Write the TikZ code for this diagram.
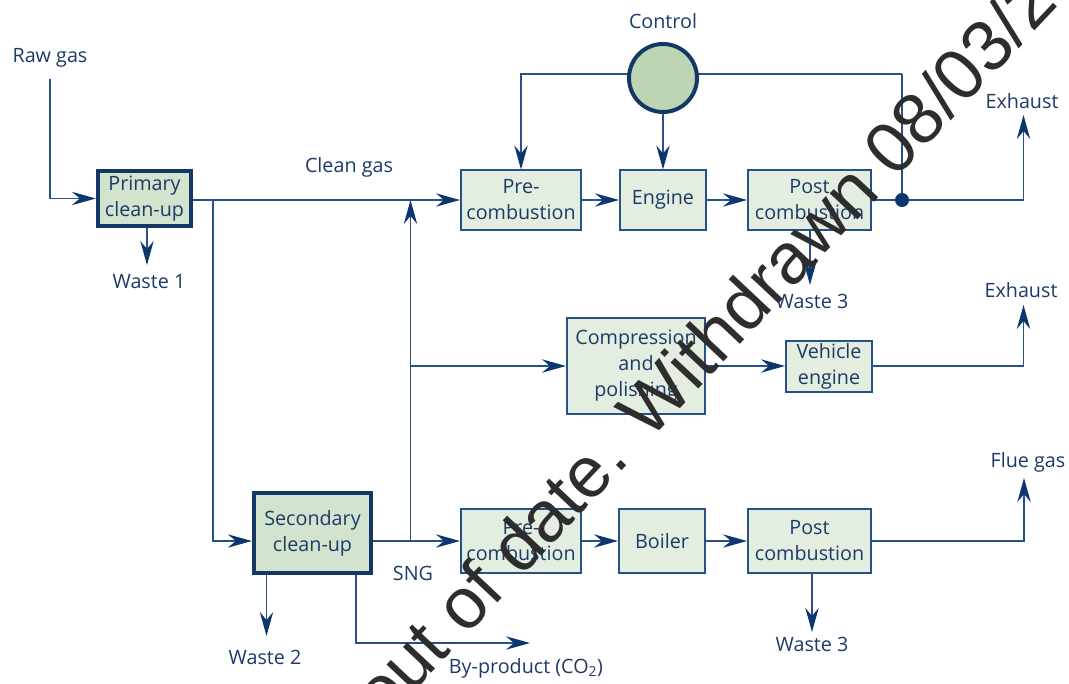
\documentclass[tikz,border=0pt]{standalone}
\usepackage{fontspec}
\setmainfont{Open Sans}
\newfontfamily\wmfont{Liberation Sans}
\usetikzlibrary{arrows.meta}
\definecolor{txt}{RGB}{28,58,104}
\definecolor{ln}{RGB}{40,82,135}
\definecolor{arrc}{RGB}{12,55,110}
\definecolor{bord}{RGB}{20,56,102}
\definecolor{fillA}{RGB}{227,237,224}
\definecolor{fillB}{RGB}{210,227,206}
\definecolor{fillC}{RGB}{189,213,179}
\definecolor{wm}{RGB}{45,45,45}
\pgfdeclarelayer{bg}
\pgfsetlayers{bg,main}
\begin{document}
\begin{tikzpicture}[x=0.75pt,y=-0.75pt,
  every node/.style={text=txt, font=\fontsize{14.8}{19.5}\selectfont},
  proc/.style={draw=ln, line width=1.5pt, fill=fillA, align=center, inner sep=0pt},
  clean/.style={draw=bord, line width=3.2pt, fill=fillB, align=center, inner sep=0pt},
  ctrlstyle/.style={circle, draw=bord, line width=3pt, fill=fillC, minimum size=51pt, inner sep=0pt},
  link/.style={draw=ln, line width=1.2pt},
  flow/.style={link, -{Stealth[length=18pt,width=10pt,inset=6pt,color=arrc]}},
  lbl/.style={inner sep=0pt}]
\useasboundingbox (0,0) rectangle (1069,684);
% process nodes
\node[clean, minimum width=69.75pt, minimum height=41.25pt] (prim) at (144.5,198.5) {Primary\\clean-up};
\node[proc, minimum width=90pt, minimum height=44.25pt] (pre1) at (521,200) {Pre-\\combustion};
\node[proc, minimum width=64.5pt, minimum height=44.25pt] (eng) at (663,200) {Engine};
\node[proc, minimum width=92.25pt, minimum height=44.25pt] (post1) at (809.5,200) {Post\\combustion};
\node[ctrlstyle] (ctrl) at (663,78) {};
\node[proc, minimum width=103.5pt, minimum height=72pt] (comp) at (636,366) {Compression\\and\\polishing};
\node[proc, minimum width=64.5pt, minimum height=38.25pt] (veh) at (829,366) {Vehicle\\engine};
\node[clean, minimum width=87.75pt, minimum height=60pt] (sec) at (312.5,533) {Secondary\\clean-up};
\node[proc, minimum width=90pt, minimum height=48pt] (pre2) at (521,541) {Pre-\\combustion};
\node[proc, minimum width=64.5pt, minimum height=48pt] (boil) at (662,541) {Boiler};
\node[proc, minimum width=92.25pt, minimum height=48pt] (post2) at (809.5,541) {Post\\combustion};
% labels
\node[lbl] (lraw) at (50,58) {Raw gas};
\node[lbl] (lw1) at (149,282) {Waste 1};
\node[lbl] (lclean) at (349,167) {Clean gas};
\node[lbl] (lctrl) at (663,21) {Control};
\node[lbl] (lex1) at (1022,101) {Exhaust};
\node[lbl] (lw3a) at (812,301) {Waste 3};
\node[lbl] (lex2) at (1021,290) {Exhaust};
\node[lbl] (lflue) at (1028,462) {Flue gas};
\node[lbl] (lsng) at (413,573) {SNG};
\node[lbl] (lw2) at (265,657) {Waste 2};
\node[lbl] (lbp) at (526,668) {By-product (CO\textsubscript{2})};
\node[lbl] (lw3b) at (812,644) {Waste 3};
% coordinates
\coordinate (rawtop) at (50,79);
\coordinate (w1) at (147,265);
\coordinate (j1) at (213,200);
\coordinate (j2) at (410.5,541);
\coordinate (c1) at (521,74);
\coordinate (c2) at (902,74);
\coordinate (dot) at (902,200);
\coordinate (ex1) at (1023.5,115);
\coordinate (ex2) at (1023.5,305);
\coordinate (fl) at (1024,478);
\coordinate (w3a) at (810,285);
\coordinate (w3b) at (812,632);
\coordinate (w2) at (266.5,636);
\coordinate (bpx) at (356,643);
\coordinate (bp2) at (530,643);
\begin{pgfonlayer}{bg}
\draw[flow] (rawtop) |- (prim.west);
\draw[flow] (w1 |- prim.south) -- (w1);
\draw[flow] (prim.east |- pre1.west) -- (pre1.west);
\draw[flow] (j1) |- (sec.west |- pre2.west);
\draw[flow] (sec.east |- pre2.west) -- (pre2.west);
\draw[flow] (j2) -- (j2 |- pre1.west);
\draw[flow] (j2 |- comp.west) -- (comp.west);
\draw[flow] (comp.east) -- (veh.west);
\draw[flow] (veh.east) -| (ex2);
\draw[flow] (pre1.east) -- (eng.west);
\draw[flow] (eng.east) -- (post1.west);
\draw[link] (post1.east) -- (dot);
\draw[flow] (dot) -| (ex1);
\draw[flow] (c2) -- (c1) -- (pre1.north);
\draw[link] (c2) -- (dot);
\draw[flow] (ctrl.south) -- (eng.north);
\draw[flow] (w3a |- post1.south) -- (w3a);
\draw[flow] (pre2.east) -- (boil.west);
\draw[flow] (boil.east) -- (post2.west);
\draw[flow] (post2.east) -| (fl);
\draw[flow] (w3b |- post2.south) -- (w3b);
\draw[flow] (w2 |- sec.south) -- (w2);
\draw[flow] (bpx |- sec.south) |- (bp2);
\end{pgfonlayer}
\fill[arrc] (dot) circle (7);
% watermark
\node[rotate=46.8, anchor=base west, inner sep=0pt, text=wm, font=\wmfont\fontsize{54}{54}\selectfont] (wmark) at (384,724) {out of date. Withdrawn 08/03/2};
\end{tikzpicture}
\end{document}
